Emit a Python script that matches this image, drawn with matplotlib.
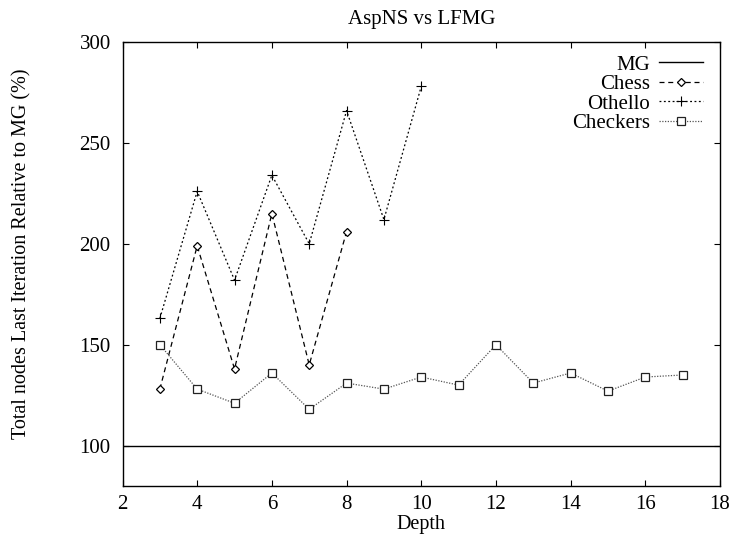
import matplotlib
matplotlib.use("Agg")
import matplotlib.pyplot as plt

plt.rcParams['font.family'] = ['Liberation Serif', 'DejaVu Serif']

mg_x = [2, 18]
mg_y = [100, 100]

chess_x = [3, 4, 5, 6, 7, 8]
chess_y = [128, 199, 138, 215, 140, 206]

othello_x = [3, 4, 5, 6, 7, 8, 9, 10]
othello_y = [163, 226, 182, 234, 200, 266, 212, 278]

checkers_x = [3, 4, 5, 6, 7, 8, 9, 10, 11, 12, 13, 14, 15, 16, 17]
checkers_y = [150, 128, 121, 136, 118, 131, 128, 134, 130, 150, 131, 136, 127, 134, 135]

xticks = [2, 4, 6, 8, 10, 12, 14, 16, 18]
yticks = [100, 150, 200, 250, 300]

W, H = 734, 538
fig = plt.figure(figsize=(W / 100, H / 100), dpi=100)
ax = fig.add_axes([122.5 / W, 1 - 486 / H, 597.5 / W, 444 / H])

ax.plot(mg_x, mg_y, color='black', lw=1.0, label='MG')
ax.plot(chess_x, chess_y, color='black', lw=0.9, ls=(0, (4, 3)), marker='D',
        markersize=4.2, markerfacecolor='white', markeredgewidth=0.9, label='Chess')
ax.plot(othello_x, othello_y, color='black', lw=0.9, ls=(0, (1.5, 2)), marker='+',
        markersize=6.5, markeredgewidth=0.8, label='Othello')
ax.plot(checkers_x, checkers_y, color='#555555', lw=0.9, ls=(0, (1, 1.2)), marker='s',
        markersize=5.8, markerfacecolor='white', markeredgecolor='#222222',
        markeredgewidth=0.9, label='Checkers')

ax.set_xlim(2, 18)
ax.set_ylim(80, 300)
ax.set_xticks(xticks)
ax.set_yticks(yticks)
ax.tick_params(direction='in', top=True, right=True, length=4.5, labelsize=15, width=0.8)
ax.tick_params(axis='x', pad=6.5)
ax.tick_params(axis='y', pad=8.5)
for s in ax.spines.values():
    s.set_linewidth(1.0)

ax.set_title('AspNS vs LFMG', fontsize=15, pad=13)
ax.set_xlabel('Depth', fontsize=14.5, labelpad=0.5)
fig.text(22 / W, 1 - 254 / H, 'Total nodes Last Iteration Relative to MG (%)',
         rotation=90, ha='center', va='center', fontsize=14.5)

leg = ax.legend(loc='upper right', frameon=False, markerfirst=False, fontsize=15,
                handlelength=2.1, handletextpad=0.45, labelspacing=0.0,
                borderaxespad=0, borderpad=0,
                bbox_to_anchor=(703 / W, 1 - 55 / H), bbox_transform=fig.transFigure)

fig.savefig('out.png', dpi=100)
